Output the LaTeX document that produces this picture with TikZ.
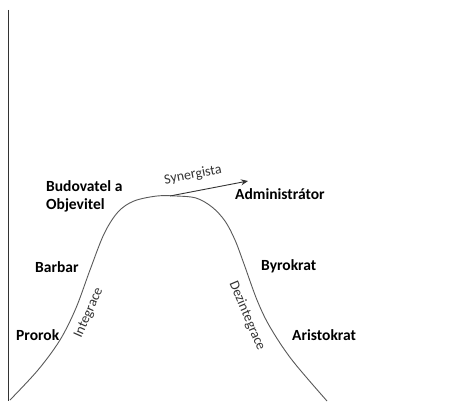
\documentclass[tikz,border=0pt]{standalone}
\usepackage{fontspec}
\setmainfont{Carlito}
\usetikzlibrary{arrows.meta}
\begin{document}
\begin{tikzpicture}[x=1pt,y=-1pt,
  lbl/.style={font=\bfseries\fontsize{15.5}{18}\selectfont, text=black, inner sep=0pt, anchor=west, align=left},
  rot/.style={font=\fontsize{14}{16}\selectfont, text=black!80, inner sep=0pt},
  curve/.style={draw=black!65, line width=0.9pt},
  axis/.style={draw=black!80, line width=0.8pt}]
\useasboundingbox (0,0) rectangle (470,401);
\coordinate (axtop) at (8,10);
\coordinate (axbot) at (8,401);
\draw[axis] (axtop) -- (axbot);
\draw[curve] plot[smooth, tension=0.55] coordinates {(10,400) (38,370) (60,340) (76,308) (90,270) (104,234) (118,212) (134,201) (157,196) (176,196) (196,198) (212,207) (225,221) (235,240) (244,264) (257,300) (270,327) (292,360) (327,401)};
\coordinate (syn0) at (170,196);
\coordinate (syn1) at (248,181);
\draw[draw=black!80, line width=0.9pt, -{Stealth[length=7pt,width=6pt]}] (syn0) -- (syn1);
\node[rot, rotate=11] (syn) at (193,175) {Synergista};
\node[rot, rotate=66] (int) at (89,313) {Integrace};
\node[rot, rotate=-67] (dez) at (247,316) {Dezintegrace};
\node[lbl] (bud) at (46,196) {Budovatel a\\Objevitel};
\node[lbl] (adm) at (235,194) {Administrátor};
\node[lbl] (bar) at (35,267) {Barbar};
\node[lbl] (byr) at (261,266) {Byrokrat};
\node[lbl] (pro) at (16,335) {Prorok};
\node[lbl] (ari) at (292,335) {Aristokrat};
\end{tikzpicture}
\end{document}
